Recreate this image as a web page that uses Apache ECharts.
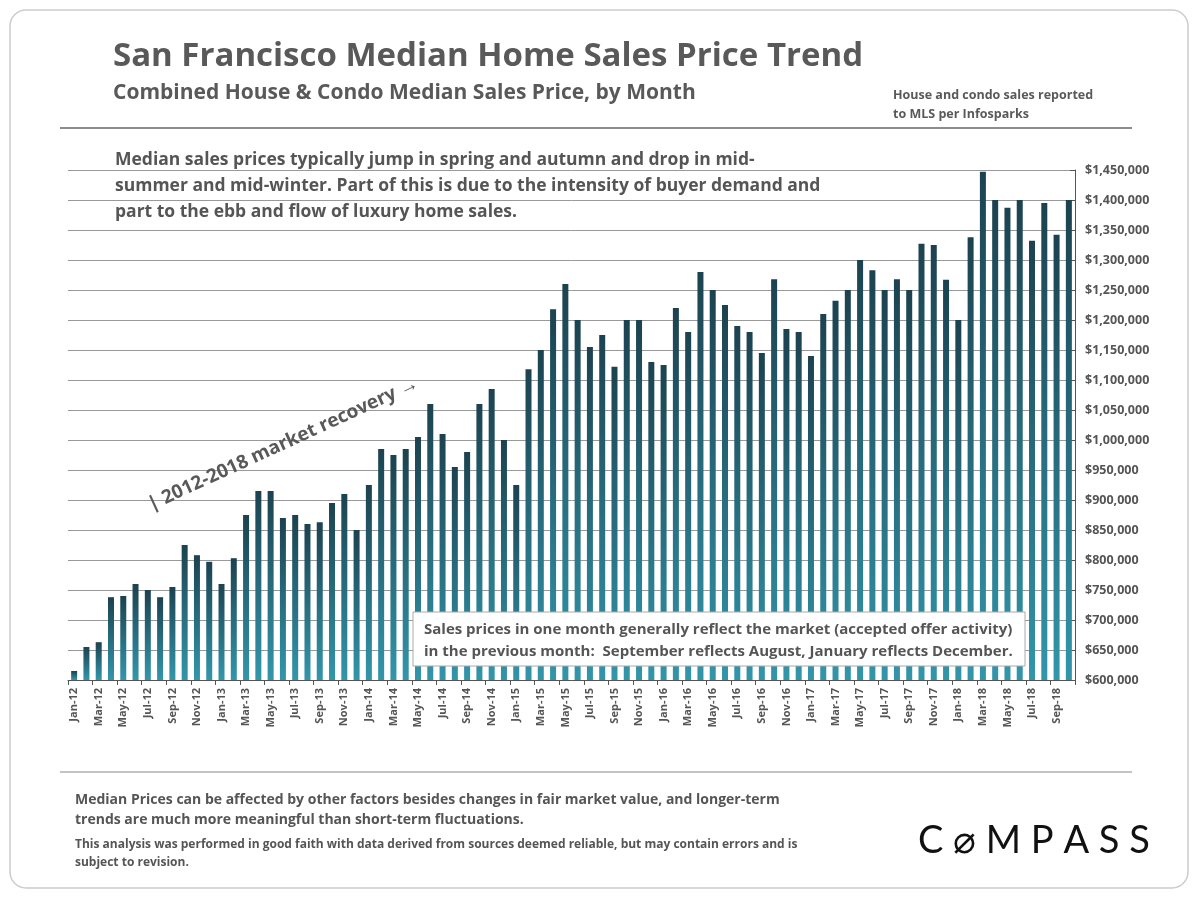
<!DOCTYPE html>
<html><head><meta charset="utf-8">
<script src="https://cdn.jsdelivr.net/npm/echarts@6/dist/echarts.min.js"></script>
<style>html,body{margin:0;padding:0;background:#fff}#c{width:1200px;height:900px}</style>
</head><body><div id="c"></div>
<script>
const years = ['12','13','14','15','16','17','18'];
const monthNames = ['Jan','Feb','Mar','Apr','May','Jun','Jul','Aug','Sep','Oct','Nov','Dec'];
const categories = [];
years.forEach(y => monthNames.forEach(m => { if (!(y === '18' && (m === 'Nov' || m === 'Dec'))) categories.push(m + '-' + y); }));
const prices2012 = [615000,655000,663000,738000,740000,760000,750000,738000,755000,825000,808000,797000];
const prices2013 = [760000,803000,875000,915000,915000,870000,875000,860000,863000,895000,910000,850000];
const prices2014 = [925000,985000,975000,985000,1005000,1060000,1010000,955000,980000,1060000,1085000,1000000];
const prices2015 = [925000,1118000,1150000,1218000,1260000,1200000,1155000,1175000,1122000,1200000,1200000,1130000];
const prices2016 = [1125000,1220000,1180000,1280000,1250000,1225000,1190000,1180000,1145000,1268000,1185000,1180000];
const prices2017 = [1140000,1210000,1232000,1250000,1300000,1283000,1250000,1268000,1250000,1327000,1325000,1267000];
const prices2018 = [1200000,1338000,1447000,1400000,1387000,1400000,1332000,1395000,1342000,1400000];
const values = [].concat(prices2012,prices2013,prices2014,prices2015,prices2016,prices2017,prices2018);

const F = '"Open Sans",Arial,sans-serif';
const grey = '#555';
const chart = echarts.init(document.getElementById('c'));
chart.setOption({
  animation: false,
  grid: {left: 68, right: 125, top: 170, bottom: 220},
  xAxis: {
    type: 'category', data: categories,
    axisLine: {lineStyle: {color: '#555'}},
    axisTick: {show: true, interval: 1, lineStyle: {color: '#555'}},
    axisLabel: {rotate: 90, interval: 1, fontFamily: F, fontSize: 11, fontWeight: 'bold', color: grey, margin: 8}
  },
  yAxis: {
    type: 'value', position: 'right', min: 600000, max: 1450000, interval: 50000,
    axisLine: {show: true, lineStyle: {color: '#555'}},
    axisTick: {show: true, inside: true, length: 5, lineStyle: {color: '#555'}},
    splitLine: {lineStyle: {color: '#999', width: 1}},
    axisLabel: {fontFamily: F, fontSize: 12.5, fontWeight: 'bold', color: grey, margin: 10,
      formatter: v => '$' + v.toLocaleString('en-US')}
  },
  series: [{
    type: 'bar', data: values, barWidth: 6,
    itemStyle: {color: new echarts.graphic.LinearGradient(0,0,0,1,[{offset:0,color:'#1c4250'},{offset:1,color:'#3296ab'}])}
  }],
  graphic: [
    {type: 'rect', shape: {x: 10, y: 10, width: 1178, height: 878, r: 16}, style: {fill: 'none', stroke: '#ccc', lineWidth: 1.5}, z: -1},
    {type: 'text', left: 113, top: 40, style: {text: 'San Francisco Median Home Sales Price Trend', font: 'bold 33px ' + F, fill: '#595959'}},
    {type: 'text', left: 113, top: 83, style: {text: 'Combined House & Condo Median Sales Price, by Month', font: 'bold 21px ' + F, fill: '#595959'}},
    {type: 'text', left: 893, top: 86, style: {text: 'House and condo sales reported\nto MLS per Infosparks', font: 'bold 12.5px ' + F, fill: '#595959', lineHeight: 19}},
    {type: 'line', shape: {x1: 60, y1: 128, x2: 1132, y2: 128}, style: {stroke: '#666', lineWidth: 1.5}},
    {type: 'text', left: 115, top: 147, z: 51, style: {text: 'Median sales prices typically jump in spring and autumn and drop in mid-\nsummer and mid-winter. Part of this is due to the intensity of buyer demand and\npart to the ebb and flow of luxury home sales.', font: 'bold 17.5px ' + F, fill: '#555', lineHeight: 26}},
    {type: 'text', x: 145, y: 497, rotation: 0.43, z: 51, style: {text: '| 2012-2018 market recovery \u2192', font: 'bold 19px ' + F, fill: '#595959'}},
    {type: 'rect', z: 50, shape: {x: 413, y: 612, width: 612, height: 54}, style: {fill: '#fff', stroke: '#aaa', lineWidth: 1}},
    {type: 'text', z: 51, left: 424, top: 619, style: {text: 'Sales prices in one month generally reflect the market (accepted offer activity)\nin the previous month:  September reflects August, January reflects December.', font: 'bold 15px ' + F, fill: '#555', lineHeight: 22}},
    {type: 'line', shape: {x1: 60, y1: 772, x2: 1132, y2: 772}, style: {stroke: '#888', lineWidth: 1}},
    {type: 'text', left: 75, top: 790, style: {text: 'Median Prices can be affected by other factors besides changes in fair market value, and longer-term\ntrends are much more meaningful than short-term fluctuations.', font: 'bold 14px ' + F, fill: '#555', lineHeight: 20}},
    {type: 'text', left: 75, top: 836, style: {text: 'This analysis was performed in good faith with data derived from sources deemed reliable, but may contain errors and is\nsubject to revision.', font: 'bold 12px ' + F, fill: '#555', lineHeight: 18}},
    {type: 'text', left: 918, top: 822, style: {text: 'C \u2300 M P A S S', font: '38px Lato, sans-serif', fill: '#111'}}
  ]
});
</script></body></html>
